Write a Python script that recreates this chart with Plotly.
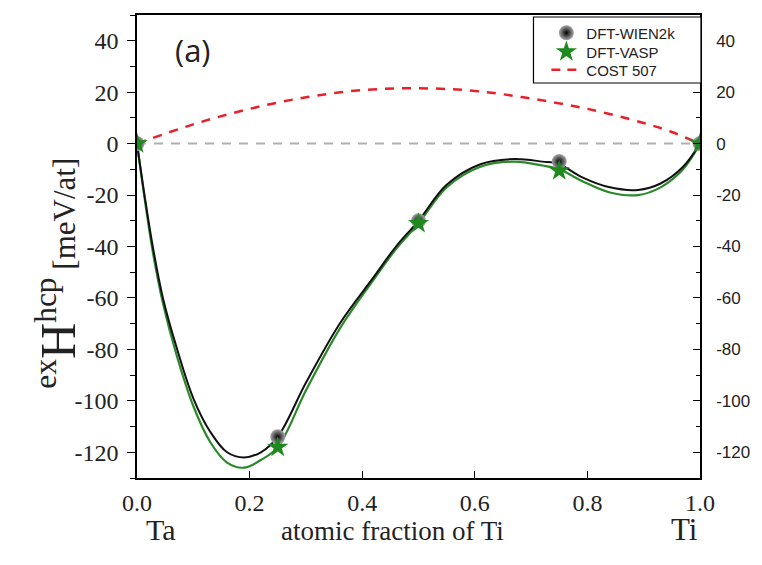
import plotly.graph_objects as go

# ---- data ----
x_pts = [0.0, 0.25, 0.5, 0.75, 1.0]
wien2k = [0.0, -114.0, -30.0, -7.0, 0.0]
vasp = [0.0, -118.0, -31.0, -10.5, 0.0]

x_fit = [0, 0.014, 0.028, 0.046, 0.07, 0.1, 0.13, 0.16, 0.19, 0.22, 0.25, 0.3, 0.36,
         0.42, 0.46, 0.5, 0.55, 0.61, 0.67, 0.72, 0.75, 0.79, 0.84, 0.89, 0.93, 0.97, 1.0]
wien2k_fit = [0, -21, -40, -60, -79, -99, -112, -120, -122, -120, -114, -93, -70,
              -52, -40, -30, -16, -8, -6, -7, -8, -13, -17, -18, -15.5, -9, 0]
vasp_fit = [0, -22, -42, -62, -82, -102, -116, -124, -126, -123, -118, -96, -72,
            -53, -41, -31, -17, -9, -7, -8.5, -10, -14.5, -19, -20, -17, -10, 0]

x_cost = [0.0, 0.1, 0.2, 0.3, 0.4, 0.5, 0.6, 0.7, 0.8, 0.9, 0.95, 1.0]
cost507 = [0.0, 7.5, 13.5, 18.0, 20.8, 21.5, 20.5, 17.5, 13.5, 8.0, 4.5, 0.0]

y_ticks = [40, 20, 0, -20, -40, -60, -80, -100, -120]
y_ticktext = ["40", "20", "0", "-20", "-40", "-60", "-80", "-100", "-120"]
x_ticks = [0.0, 0.2, 0.4, 0.6, 0.8, 1.0]
x_ticktext = ["0.0", "0.2", "0.4", "0.6", "0.8", "1.0"]

# plot-area pixel geometry used for paper-coordinate placement of labels
L, R, T, B = 137, 705, 15, 478
W, H = R - L, B - T


def px(x):
    return (x - L) / W


def py(y):
    return (B - y) / H


SERIF = "Liberation Serif, Times New Roman, serif"
SANS = "Liberation Sans, Arial, sans-serif"

fig = go.Figure()

fig.add_trace(go.Scatter(x=[0, 1], y=[0, 0], mode="lines",
                         line=dict(color="#b0b0b0", width=2, dash="9px,8px"),
                         showlegend=False, hoverinfo="skip"))
fig.add_trace(go.Scatter(x=x_cost, y=cost507, mode="lines",
                         line=dict(color="#e8202a", width=2.5, dash="9px,8px", shape="spline"),
                         showlegend=False))
fig.add_trace(go.Scatter(x=x_fit, y=vasp_fit, mode="lines",
                         line=dict(color="#2a8a2a", width=2.2, shape="spline", smoothing=1.0),
                         showlegend=False))
fig.add_trace(go.Scatter(x=x_fit, y=wien2k_fit, mode="lines",
                         line=dict(color="#111111", width=2, shape="spline", smoothing=1.0),
                         showlegend=False))
fig.add_trace(go.Scatter(x=x_pts, y=wien2k, mode="markers", name="DFT-WIEN2k",
                         legend="legend",
                         marker=dict(symbol="circle", size=15, color="#a8a8a8",
                                     gradient=dict(type="radial", color="#000000"),
                                     line=dict(width=0))))
fig.add_trace(go.Scatter(x=x_pts, y=vasp, mode="markers", name="DFT-VASP",
                         legend="legend2",
                         marker=dict(symbol="star", size=16, color="#1e8a1e",
                                     line=dict(width=0))))
fig.add_trace(go.Scatter(x=[None], y=[None], mode="lines", name="COST 507",
                         legend="legend3",
                         line=dict(color="#e8202a", width=2.5, dash="9px,7px")))

# invisible trace for right axis
fig.add_trace(go.Scatter(x=[None], y=[None], yaxis="y2", showlegend=False))


def leg(yc):
    return dict(x=px(550), y=py(yc), xanchor="left", yanchor="middle",
                bgcolor="rgba(0,0,0,0)", borderwidth=0,
                font=dict(family=SANS, size=15, color="#222"),
                itemwidth=30, tracegroupgap=0)


fig.update_layout(
    width=762, height=565,
    margin=dict(l=L, r=762 - R, t=T, b=565 - B),
    plot_bgcolor="white", paper_bgcolor="white",
    font=dict(family=SERIF, size=24, color="#222"),
    showlegend=True,
    legend=leg(33), legend2=leg(52), legend3=leg(70),
    xaxis=dict(range=[0, 1], tickmode="array", tickvals=x_ticks, ticktext=x_ticktext,
               ticks="inside", ticklen=7, tickcolor="black",
               showline=True, linecolor="black", linewidth=1.5, mirror=True,
               showgrid=False, zeroline=False, ticklabelstandoff=2,
               tickfont=dict(family=SERIF, size=24, color="#222")),
    yaxis=dict(range=[-130, 50], tickmode="array", tickvals=y_ticks, ticktext=y_ticktext,
               ticks="outside", ticklen=8, tickcolor="black",
               minor=dict(dtick=10, ticks="outside", ticklen=5, tickcolor="black", showgrid=False),
               showline=True, linecolor="black", linewidth=1.5,
               showgrid=False, zeroline=False, ticklabelstandoff=4,
               tickfont=dict(family=SERIF, size=24, color="#222")),
    yaxis2=dict(range=[-130, 50], tickmode="array", tickvals=y_ticks, ticktext=y_ticktext,
                overlaying="y", side="right",
                ticks="inside", ticklen=7, tickcolor="black",
                minor=dict(dtick=10, ticks="inside", ticklen=4, tickcolor="black", showgrid=False),
                showline=True, linecolor="black", linewidth=1.5,
                showgrid=False, zeroline=False, ticklabelstandoff=11,
                tickfont=dict(family=SANS, size=17, color="#222")),
    shapes=[dict(type="rect", xref="paper", yref="paper",
                 x0=px(537), x1=px(706), y0=py(83), y1=py(17),
                 line=dict(color="black", width=1.2), fillcolor="white", layer="above")],
)

fig.add_annotation(text="(a)", x=px(194), y=py(50), xref="paper", yref="paper",
                   xanchor="center", yanchor="middle", showarrow=False,
                   font=dict(family="Open Sans", size=31, color="#222"))
fig.add_annotation(text='<sup>ex</sup><span style="font-size:50px">H</span><sup>hcp</sup>'
                        '<span style="font-size:31px"> [meV/at]</span>',
                   x=px(56), y=py(273), xref="paper", yref="paper", textangle=-90,
                   xanchor="center", yanchor="middle", showarrow=False,
                   font=dict(family=SERIF, size=45, color="#222"))
fig.add_annotation(text="atomic fraction of Ti", x=px(395), y=py(531),
                   xref="paper", yref="paper", showarrow=False,
                   xanchor="center", yanchor="middle",
                   font=dict(family=SERIF, size=27, color="#222"))
fig.add_annotation(text="Ta", x=px(161), y=py(529),
                   xref="paper", yref="paper", showarrow=False,
                   xanchor="center", yanchor="middle",
                   font=dict(family=SERIF, size=30, color="#222"))
fig.add_annotation(text="Ti", x=px(689), y=py(529),
                   xref="paper", yref="paper", showarrow=False,
                   xanchor="center", yanchor="middle",
                   font=dict(family=SERIF, size=31, color="#222"))

fig.write_html("out.html")
